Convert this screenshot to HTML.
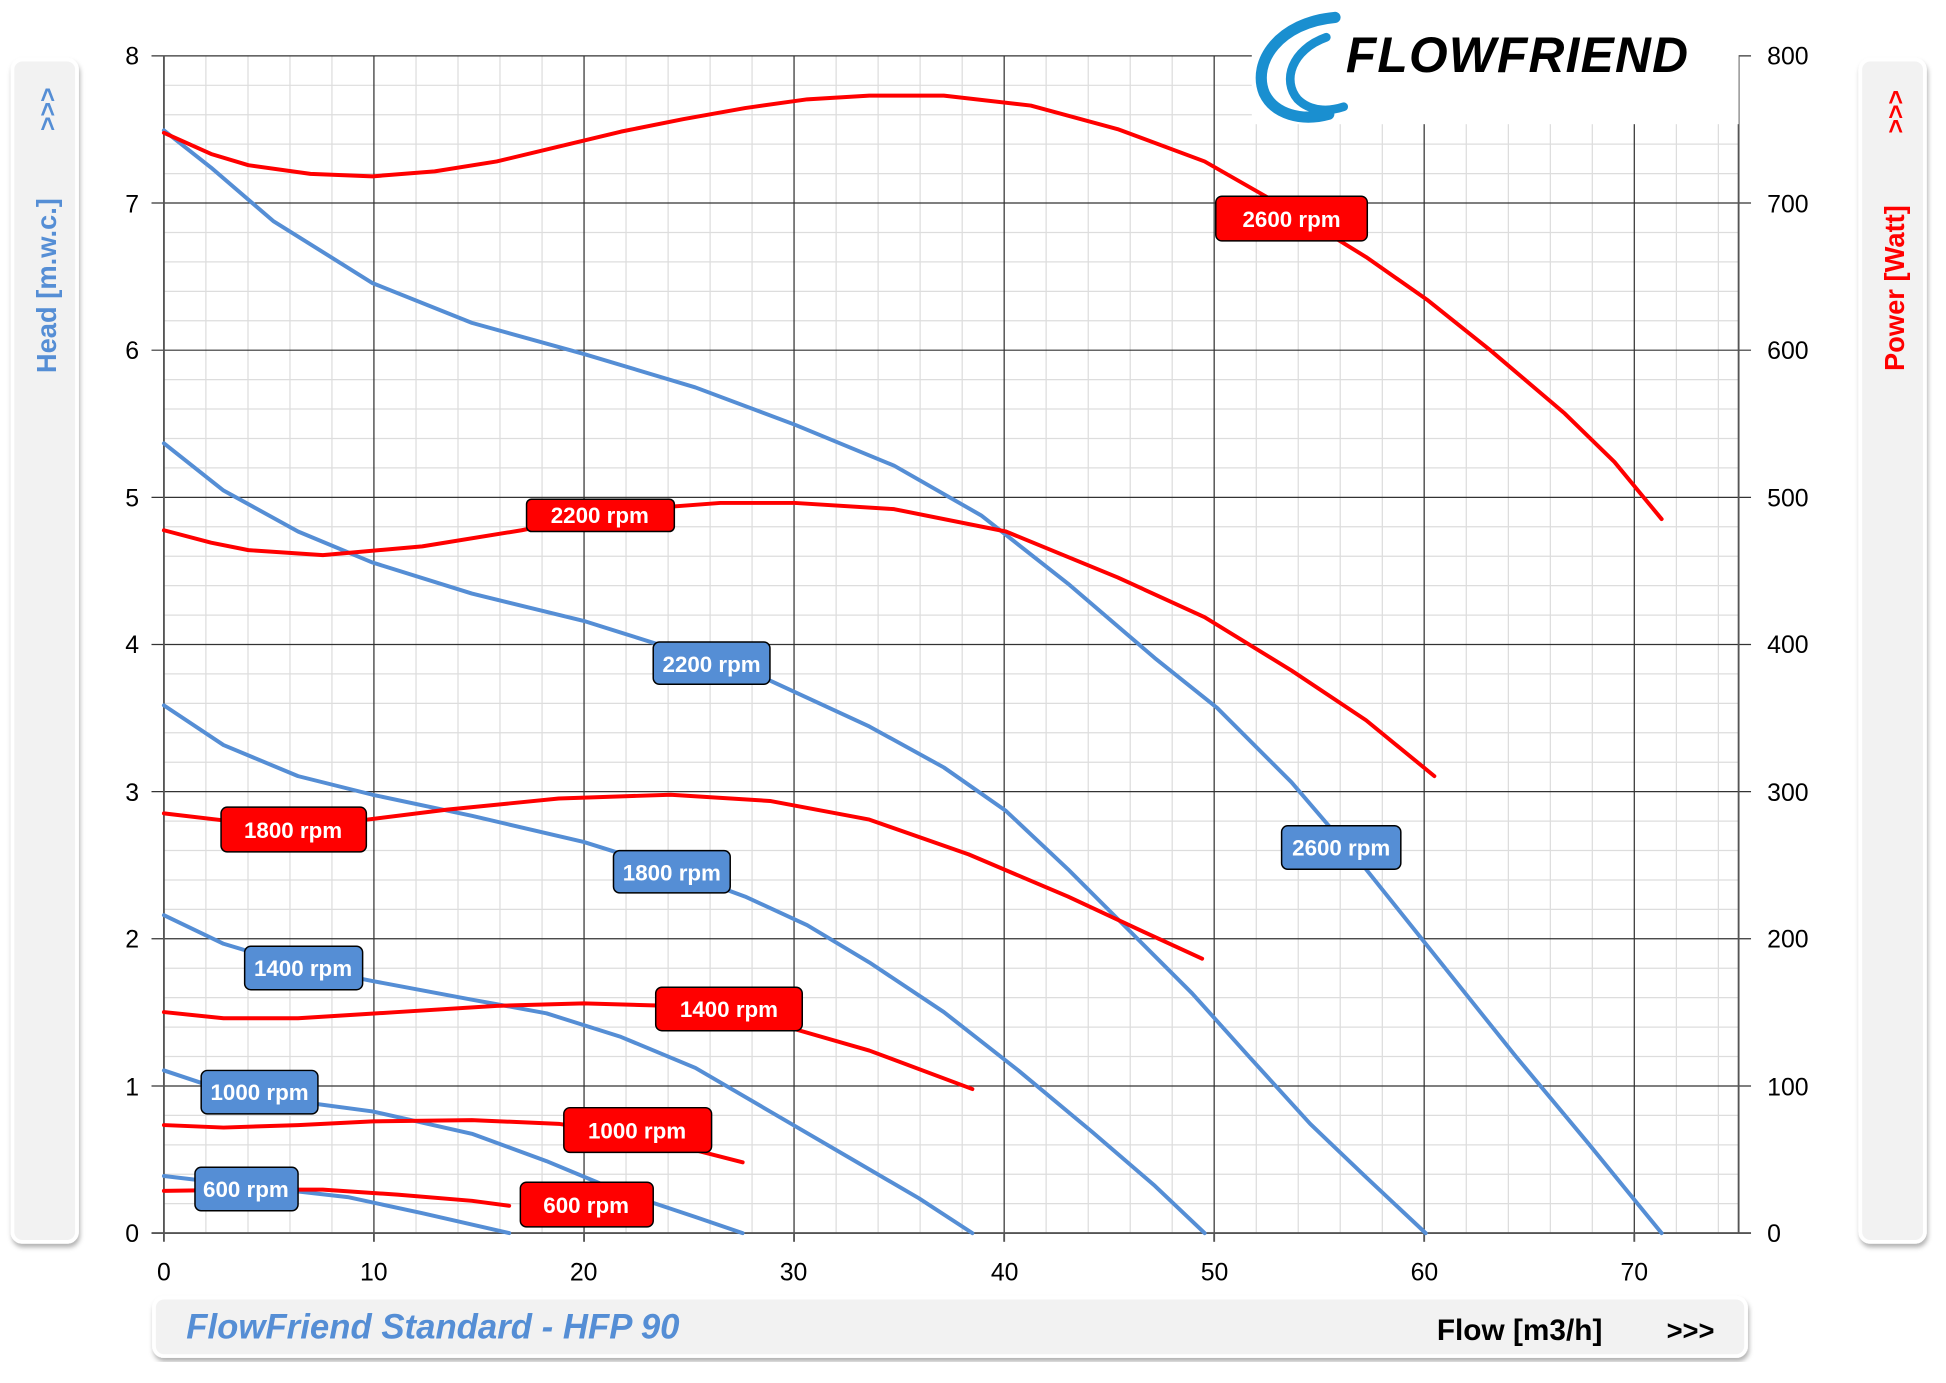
<!DOCTYPE html>
<html><head><meta charset="utf-8"><style>
html,body{margin:0;padding:0;background:#fff;}
svg{display:block;font-family:"Liberation Sans",sans-serif;}
</style></head><body>
<svg width="1946" height="1383" viewBox="0 0 1567 1113.7" preserveAspectRatio="none" xmlns="http://www.w3.org/2000/svg">
<defs>
<filter id="sh" x="-20%" y="-5%" width="140%" height="115%"><feDropShadow dx="1" dy="3" stdDeviation="2" flood-color="#000" flood-opacity="0.3"/></filter>
</defs>
<rect x="10" y="48" width="52" height="952" rx="8" fill="#f2f2f2" stroke="#fff" stroke-width="3" filter="url(#sh)"/>
<rect x="1498" y="48" width="52" height="952" rx="8" fill="#f2f2f2" stroke="#fff" stroke-width="3" filter="url(#sh)"/>
<text transform="translate(45,230) rotate(-90)" text-anchor="middle" font-size="22" font-weight="bold" fill="#558ed5">Head [m.w.c.]</text>
<text transform="translate(45,88) rotate(-90)" text-anchor="middle" font-size="20" font-weight="bold" fill="#558ed5">&gt;&gt;&gt;</text>
<text transform="translate(1533,232) rotate(-90)" text-anchor="middle" font-size="22" font-weight="bold" fill="#ff0000">Power  [Watt]</text>
<text transform="translate(1533,90) rotate(-90)" text-anchor="middle" font-size="20" font-weight="bold" fill="#ff0000">&gt;&gt;&gt;</text>
<rect x="124" y="1045" width="1282" height="47" rx="8" fill="#f2f2f2" stroke="#fff" stroke-width="3" filter="url(#sh)"/>
<text x="150" y="1078" font-size="28" font-weight="bold" font-style="italic" fill="#558ed5">FlowFriend Standard - HFP 90</text>
<text x="1157" y="1079" font-size="24" font-weight="bold" fill="#000">Flow [m3/h]</text>
<text x="1342" y="1079" font-size="22" font-weight="bold" fill="#000">&gt;&gt;&gt;</text>
<g stroke="#dddddd" stroke-width="1">
<line x1="165.8" y1="45" x2="165.8" y2="993"/><line x1="199.7" y1="45" x2="199.7" y2="993"/><line x1="233.5" y1="45" x2="233.5" y2="993"/><line x1="267.3" y1="45" x2="267.3" y2="993"/>
<line x1="335" y1="45" x2="335" y2="993"/><line x1="368.8" y1="45" x2="368.8" y2="993"/><line x1="402.6" y1="45" x2="402.6" y2="993"/><line x1="436.5" y1="45" x2="436.5" y2="993"/>
<line x1="504.1" y1="45" x2="504.1" y2="993"/><line x1="538" y1="45" x2="538" y2="993"/><line x1="571.8" y1="45" x2="571.8" y2="993"/><line x1="605.6" y1="45" x2="605.6" y2="993"/>
<line x1="673.3" y1="45" x2="673.3" y2="993"/><line x1="707.1" y1="45" x2="707.1" y2="993"/><line x1="740.9" y1="45" x2="740.9" y2="993"/><line x1="774.8" y1="45" x2="774.8" y2="993"/>
<line x1="842.4" y1="45" x2="842.4" y2="993"/><line x1="876.3" y1="45" x2="876.3" y2="993"/><line x1="910.1" y1="45" x2="910.1" y2="993"/><line x1="943.9" y1="45" x2="943.9" y2="993"/>
<line x1="1011.6" y1="45" x2="1011.6" y2="993"/><line x1="1045.4" y1="45" x2="1045.4" y2="993"/><line x1="1079.2" y1="45" x2="1079.2" y2="993"/><line x1="1113.1" y1="45" x2="1113.1" y2="993"/>
<line x1="1180.7" y1="45" x2="1180.7" y2="993"/><line x1="1214.6" y1="45" x2="1214.6" y2="993"/><line x1="1248.4" y1="45" x2="1248.4" y2="993"/><line x1="1282.2" y1="45" x2="1282.2" y2="993"/>
<line x1="1349.9" y1="45" x2="1349.9" y2="993"/><line x1="1383.7" y1="45" x2="1383.7" y2="993"/>
</g>
<g stroke="#dddddd" stroke-width="1">
<line x1="132" x2="1400" y1="68.7" y2="68.7"/><line x1="132" x2="1400" y1="92.4" y2="92.4"/><line x1="132" x2="1400" y1="116.1" y2="116.1"/><line x1="132" x2="1400" y1="139.8" y2="139.8"/>
<line x1="132" x2="1400" y1="187.2" y2="187.2"/><line x1="132" x2="1400" y1="210.9" y2="210.9"/><line x1="132" x2="1400" y1="234.6" y2="234.6"/><line x1="132" x2="1400" y1="258.3" y2="258.3"/>
<line x1="132" x2="1400" y1="305.7" y2="305.7"/><line x1="132" x2="1400" y1="329.4" y2="329.4"/><line x1="132" x2="1400" y1="353.1" y2="353.1"/><line x1="132" x2="1400" y1="376.8" y2="376.8"/>
<line x1="132" x2="1400" y1="424.2" y2="424.2"/><line x1="132" x2="1400" y1="447.9" y2="447.9"/><line x1="132" x2="1400" y1="471.6" y2="471.6"/><line x1="132" x2="1400" y1="495.3" y2="495.3"/>
<line x1="132" x2="1400" y1="542.7" y2="542.7"/><line x1="132" x2="1400" y1="566.4" y2="566.4"/><line x1="132" x2="1400" y1="590.1" y2="590.1"/><line x1="132" x2="1400" y1="613.8" y2="613.8"/>
<line x1="132" x2="1400" y1="661.2" y2="661.2"/><line x1="132" x2="1400" y1="684.9" y2="684.9"/><line x1="132" x2="1400" y1="708.6" y2="708.6"/><line x1="132" x2="1400" y1="732.3" y2="732.3"/>
<line x1="132" x2="1400" y1="779.7" y2="779.7"/><line x1="132" x2="1400" y1="803.4" y2="803.4"/><line x1="132" x2="1400" y1="827.1" y2="827.1"/><line x1="132" x2="1400" y1="850.8" y2="850.8"/>
<line x1="132" x2="1400" y1="898.2" y2="898.2"/><line x1="132" x2="1400" y1="921.9" y2="921.9"/><line x1="132" x2="1400" y1="945.6" y2="945.6"/><line x1="132" x2="1400" y1="969.3" y2="969.3"/>
</g>
<g stroke="#333" stroke-width="1">
<line x1="301.1" y1="45" x2="301.1" y2="993"/><line x1="470.3" y1="45" x2="470.3" y2="993"/><line x1="639.4" y1="45" x2="639.4" y2="993"/><line x1="808.6" y1="45" x2="808.6" y2="993"/><line x1="977.7" y1="45" x2="977.7" y2="993"/><line x1="1146.8" y1="45" x2="1146.8" y2="993"/><line x1="1316" y1="45" x2="1316" y2="993"/>
<line x1="122" x2="1410" y1="45" y2="45"/><line x1="122" x2="1410" y1="163.5" y2="163.5"/><line x1="122" x2="1410" y1="282" y2="282"/><line x1="122" x2="1410" y1="400.5" y2="400.5"/><line x1="122" x2="1410" y1="519" y2="519"/><line x1="122" x2="1410" y1="637.5" y2="637.5"/><line x1="122" x2="1410" y1="756" y2="756"/><line x1="122" x2="1410" y1="874.5" y2="874.5"/>
</g>
<g stroke="#555" stroke-width="1.5">
<line x1="132" y1="45" x2="132" y2="1000"/><line x1="1400" y1="45" x2="1400" y2="993"/><line x1="122" y1="993" x2="1410" y2="993"/>
<line x1="301.1" y1="993" x2="301.1" y2="1000"/><line x1="470.3" y1="993" x2="470.3" y2="1000"/><line x1="639.4" y1="993" x2="639.4" y2="1000"/><line x1="808.6" y1="993" x2="808.6" y2="1000"/><line x1="977.7" y1="993" x2="977.7" y2="1000"/><line x1="1146.8" y1="993" x2="1146.8" y2="1000"/><line x1="1316" y1="993" x2="1316" y2="1000"/>
</g>
<g font-size="20" fill="#000" text-anchor="end">
<text x="112" y="52">8</text><text x="112" y="171">7</text><text x="112" y="289">6</text><text x="112" y="408">5</text><text x="112" y="526">4</text><text x="112" y="645">3</text><text x="112" y="763">2</text><text x="112" y="882">1</text><text x="112" y="1000">0</text>
</g>
<g font-size="20" fill="#000" text-anchor="start">
<text x="1423" y="52">800</text><text x="1423" y="171">700</text><text x="1423" y="289">600</text><text x="1423" y="408">500</text><text x="1423" y="526">400</text><text x="1423" y="645">300</text><text x="1423" y="763">200</text><text x="1423" y="882">100</text><text x="1423" y="1000">0</text>
</g>
<g font-size="20" fill="#000" text-anchor="middle">
<text x="132" y="1031">0</text><text x="301" y="1031">10</text><text x="470" y="1031">20</text><text x="639" y="1031">30</text><text x="809" y="1031">40</text><text x="978" y="1031">50</text><text x="1147" y="1031">60</text><text x="1316" y="1031">70</text>
</g>
<rect x="1008" y="0" width="392" height="100" fill="#fff"/>
<g fill="none" stroke="#1a8fd0" stroke-linecap="round">
<path d="M1075,14 C1030,18 1008,50 1018,75 C1026,92 1048,98 1070,92" stroke-width="9"/>
<path d="M1068,30 C1040,40 1032,65 1045,80 C1055,90 1070,90 1082,86" stroke-width="7"/>
</g>
<text x="1222" y="58" text-anchor="middle" font-size="40" font-weight="bold" font-style="italic" fill="#000" letter-spacing="1">FLOWFRIEND</text>
<g fill="none" stroke="#558ed5" stroke-width="3.2" stroke-linejoin="round" stroke-linecap="round">
<polyline points="132,105 170,135 220,178 300,228 380,260 470,285 560,312 640,342 720,375 790,415 860,470 930,530 980,570 1040,630 1100,700 1160,775 1220,850 1280,922 1338,993"/>
<polyline points="132,357 180,395 240,428 300,453 380,478 470,500 540,522 620,548 700,585 760,618 810,653 860,700 910,750 960,800 1005,850 1055,905 1100,948 1148,993"/>
<polyline points="132,568 180,600 240,625 300,640 380,657 470,678 540,700 600,722 650,745 700,775 760,815 820,862 880,912 930,955 970,993"/>
<polyline points="132,737 180,760 240,778 300,790 380,805 440,816 500,835 560,860 620,895 680,930 740,965 783,993"/>
<polyline points="132,862 180,878 240,887 300,895 380,913 440,935 500,960 560,980 598,993"/>
<polyline points="132,947 200,955 280,964 340,977 410,993"/>
</g>
<g fill="none" stroke="#ff0000" stroke-width="3.2" stroke-linejoin="round" stroke-linecap="round">
<polyline points="132,107 170,124 200,133 250,140 300,142 350,138 400,130 450,118 500,106 550,96 600,87 650,80 700,77 760,77 830,85 900,104 970,130 1040,170 1100,207 1150,242 1200,282 1260,333 1300,372 1338,418"/>
<polyline points="132,427 170,437 200,443 260,447 340,440 420,427 500,411 580,405 640,405 720,410 810,428 900,465 970,497 1040,540 1100,580 1155,625"/>
<polyline points="132,655 200,663 280,662 360,652 450,643 540,640 620,645 700,660 780,688 860,722 920,750 968,772"/>
<polyline points="132,815 180,820 240,820 320,815 400,810 470,808 540,810 620,823 700,846 783,877"/>
<polyline points="132,906 180,908 240,906 300,903 380,902 450,905 520,916 598,936"/>
<polyline points="132,959 200,958 260,958 320,962 380,967 410,971"/>
</g>
<g stroke="#000" stroke-width="1.2">
<rect x="979" y="158" width="122" height="36" rx="5" fill="#ff0000"/>
<rect x="424" y="402" width="119" height="26" rx="4" fill="#ff0000"/>
<rect x="178" y="650" width="117" height="36" rx="5" fill="#ff0000"/>
<rect x="528" y="795" width="118" height="35" rx="5" fill="#ff0000"/>
<rect x="454" y="892" width="119" height="36" rx="5" fill="#ff0000"/>
<rect x="419" y="952" width="107" height="36" rx="5" fill="#ff0000"/>
<rect x="526" y="517" width="94" height="34" rx="5" fill="#558ed5"/>
<rect x="1032" y="665" width="96" height="35" rx="5" fill="#558ed5"/>
<rect x="494" y="685" width="94" height="34" rx="5" fill="#558ed5"/>
<rect x="197" y="762" width="95" height="35" rx="5" fill="#558ed5"/>
<rect x="162" y="862" width="94" height="35" rx="5" fill="#558ed5"/>
<rect x="157" y="940" width="83" height="35" rx="5" fill="#558ed5"/>
</g>
<g fill="#fff" font-size="18" font-weight="bold" text-anchor="middle">
<text x="1040" y="183">2600 rpm</text>
<text x="483" y="421">2200 rpm</text>
<text x="236" y="675">1800 rpm</text>
<text x="587" y="819">1400 rpm</text>
<text x="513" y="917">1000 rpm</text>
<text x="472" y="977">600 rpm</text>
<text x="573" y="541">2200 rpm</text>
<text x="1080" y="689">2600 rpm</text>
<text x="541" y="709">1800 rpm</text>
<text x="244" y="786">1400 rpm</text>
<text x="209" y="886">1000 rpm</text>
<text x="198" y="964">600 rpm</text>
</g>
</svg>
</body></html>
